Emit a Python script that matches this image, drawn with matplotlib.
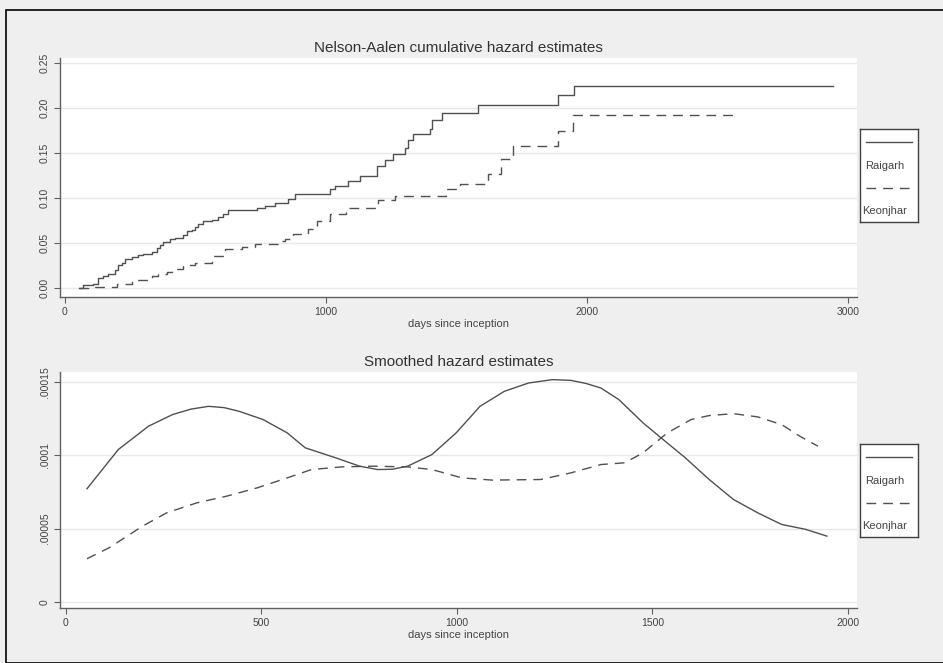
import matplotlib
matplotlib.use('Agg')
import matplotlib.pyplot as plt
from matplotlib.patches import Rectangle

plt.rcParams['font.family'] = ['Liberation Sans', 'DejaVu Sans']

# Nelson-Aalen cumulative hazard (step functions)
raigarh_days = [54, 70, 108, 128, 147, 166, 192, 204, 217, 230, 255, 281, 300, 332, 351,
                364, 377, 402, 421, 453, 466, 485, 498, 511, 530, 562, 587, 607, 626, 734,
                766, 805, 856, 881, 1015, 1034, 1085, 1130, 1194, 1226, 1258, 1303, 1315,
                1335, 1398, 1405, 1443, 1584, 1890, 1950, 2943]
raigarh_cumhaz = [0.000, 0.003, 0.005, 0.011, 0.013, 0.016, 0.020, 0.026, 0.028, 0.032,
                  0.034, 0.037, 0.038, 0.040, 0.044, 0.048, 0.051, 0.054, 0.056, 0.059,
                  0.063, 0.065, 0.068, 0.071, 0.074, 0.076, 0.079, 0.082, 0.087, 0.089,
                  0.091, 0.094, 0.099, 0.104, 0.110, 0.113, 0.119, 0.124, 0.136, 0.142,
                  0.149, 0.156, 0.164, 0.171, 0.177, 0.187, 0.194, 0.203, 0.214, 0.225, 0.225]

keonjhar_days = [54, 115, 198, 255, 332, 358, 390, 409, 453, 498, 562, 613, 677, 728, 817,
                 843, 875, 930, 965, 1015, 1075, 1200, 1265, 1460, 1515, 1622, 1670, 1718,
                 1888, 1945, 2573]
keonjhar_cumhaz = [0.000, 0.0015, 0.004, 0.009, 0.013, 0.016, 0.018, 0.021, 0.026, 0.028,
                   0.036, 0.043, 0.046, 0.049, 0.052, 0.055, 0.060, 0.066, 0.074, 0.082,
                   0.089, 0.098, 0.102, 0.110, 0.116, 0.127, 0.143, 0.158, 0.174, 0.192, 0.192]

# Smoothed hazard estimates
raigarh_sm_days = [54, 134, 211, 273, 320, 365, 405, 443, 504, 566, 612, 690, 751, 797, 835,
                   874, 936, 998, 1059, 1121, 1183, 1244, 1291, 1330, 1368, 1414, 1476, 1522,
                   1584, 1645, 1707, 1769, 1830, 1892, 1946]
raigarh_sm = [7.72e-5, 1.039e-4, 1.198e-4, 1.278e-4, 1.315e-4, 1.334e-4, 1.325e-4, 1.300e-4,
              1.244e-4, 1.153e-4, 1.051e-4, 9.83e-5, 9.26e-5, 9.03e-5, 9.05e-5, 9.26e-5,
              1.005e-4, 1.153e-4, 1.334e-4, 1.436e-4, 1.493e-4, 1.516e-4, 1.511e-4, 1.490e-4,
              1.459e-4, 1.380e-4, 1.221e-4, 1.119e-4, 9.83e-5, 8.35e-5, 6.99e-5, 6.08e-5,
              5.29e-5, 4.95e-5, 4.49e-5]

keonjhar_sm_days = [54, 111, 196, 258, 335, 412, 489, 566, 628, 705, 782, 874, 936, 1013,
                    1090, 1214, 1291, 1368, 1429, 1476, 1538, 1599, 1645, 1707, 1769, 1830,
                    1877, 1923]
keonjhar_sm = [2.95e-5, 3.70e-5, 5.17e-5, 6.08e-5, 6.76e-5, 7.22e-5, 7.78e-5, 8.46e-5,
               9.03e-5, 9.21e-5, 9.26e-5, 9.21e-5, 9.03e-5, 8.46e-5, 8.31e-5, 8.35e-5,
               8.80e-5, 9.37e-5, 9.49e-5, 1.017e-4, 1.153e-4, 1.244e-4, 1.271e-4, 1.284e-4,
               1.262e-4, 1.210e-4, 1.130e-4, 1.062e-4]

top_yticks = [0.00, 0.05, 0.10, 0.15, 0.20, 0.25]
top_ylabels = ['0.00', '0.05', '0.10', '0.15', '0.20', '0.25']
top_xticks = [0, 1000, 2000, 3000]
bot_yticks = [0, 0.00005, 0.0001, 0.00015]
bot_ylabels = ['0', '.00005', '.0001', '.00015']
bot_xticks = [0, 500, 1000, 1500, 2000]
labels = ['Raigarh', 'Keonjhar']

W, H = 943, 663
line_col = '#505050'
dash = (0, (7, 5))

fig = plt.figure(figsize=(W / 100, H / 100), dpi=100, facecolor='#efefef')
fig.add_artist(Rectangle((6 / W, 0), 1, 1 - 10 / H, transform=fig.transFigure,
                         fill=False, edgecolor='black', lw=1.2))


def style_axes(ax, title):
    ax.set_facecolor('white')
    for s in ['top', 'right']:
        ax.spines[s].set_visible(False)
    for s in ['left', 'bottom']:
        ax.spines[s].set_color('#606060')
        ax.spines[s].set_linewidth(1.0)
    ax.tick_params(length=4, width=0.8, color='#606060', labelsize=7.5, labelcolor='#444444')
    ax.set_title(title, fontsize=11, color='#333333', pad=4)
    ax.set_xlabel('days since inception', fontsize=8, color='#444444', labelpad=1)
    for lab in ax.get_yticklabels():
        lab.set_rotation(90)
        lab.set_va('center')


def add_legend(y_bottom_px):
    lax = fig.add_axes([860 / W, 1 - y_bottom_px / H, 58 / W, 93 / H])
    lax.set_xlim(0, 1)
    lax.set_ylim(0, 1)
    lax.set_xticks([])
    lax.set_yticks([])
    lax.set_facecolor('white')
    for s in lax.spines.values():
        s.set_color('#404040')
        s.set_linewidth(1.0)
    lax.plot([0.1, 0.9], [0.86, 0.86], color=line_col, lw=1)
    lax.text(0.08, 0.60, labels[0], fontsize=8, color='#444444', va='center')
    lax.plot([0.1, 0.95], [0.37, 0.37], color=line_col, lw=1, linestyle=dash)
    lax.text(0.04, 0.12, labels[1], fontsize=8, color='#444444', va='center')


# top panel
ax1 = fig.add_axes([60 / W, 1 - 297 / H, 797 / W, 239 / H])
ax1.grid(axis='y', color='#e8e8e8', lw=1)
ax1.set_axisbelow(True)
ax1.plot(raigarh_days, raigarh_cumhaz, drawstyle='steps-post', color=line_col, lw=1)
ax1.plot(keonjhar_days, keonjhar_cumhaz, drawstyle='steps-post', color=line_col, lw=1,
         linestyle=dash)
ax1.set_xlim(-19, 3034)
ax1.set_ylim(-0.01, 0.2556)
ax1.set_xticks(top_xticks)
ax1.set_yticks(top_yticks)
ax1.set_yticklabels(top_ylabels)
style_axes(ax1, 'Nelson-Aalen cumulative hazard estimates')
add_legend(222)

# bottom panel
ax2 = fig.add_axes([60 / W, 1 - 608 / H, 797 / W, 236 / H])
ax2.grid(axis='y', color='#e8e8e8', lw=1)
ax2.set_axisbelow(True)
ax2.plot(raigarh_sm_days, raigarh_sm, color=line_col, lw=1)
ax2.plot(keonjhar_sm_days, keonjhar_sm, color=line_col, lw=1, linestyle=dash)
ax2.set_xlim(-15, 2023)
ax2.set_ylim(-0.0000041, 0.0001568)
ax2.set_xticks(bot_xticks)
ax2.set_yticks(bot_yticks)
ax2.set_yticklabels(bot_ylabels)
style_axes(ax2, 'Smoothed hazard estimates')
add_legend(537)

fig.savefig('out.png', dpi=100, facecolor=fig.get_facecolor())
